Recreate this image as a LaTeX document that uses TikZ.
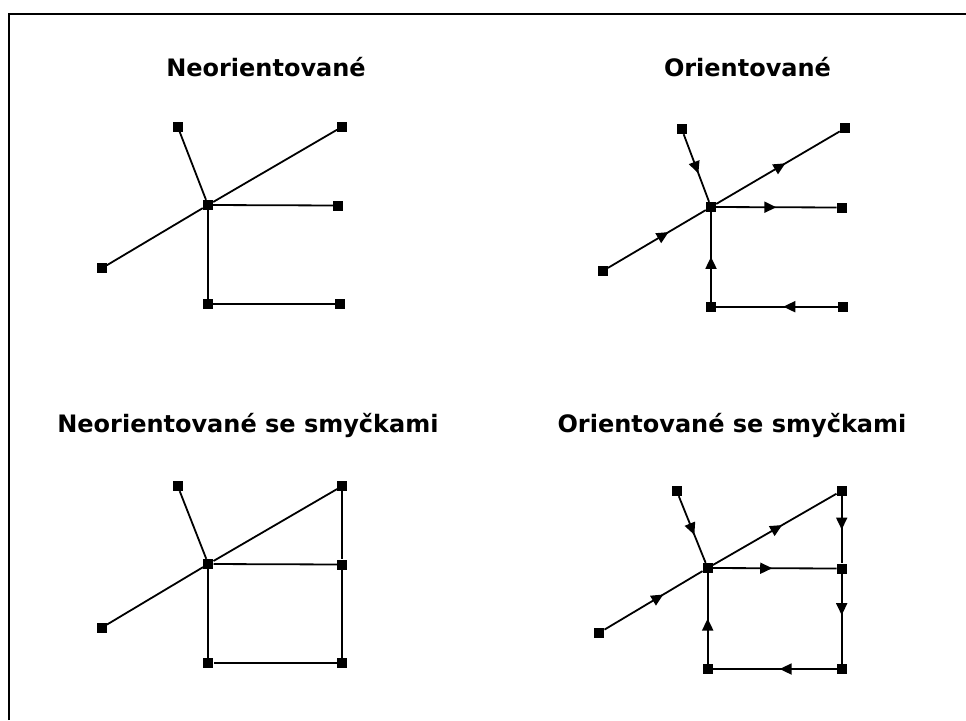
\documentclass[tikz,border=0pt]{standalone}
\usepackage{fontspec}
\setmainfont{DejaVu Sans}
\usetikzlibrary{arrows.meta,decorations.markings}
\tikzset{
  vtx/.style={rectangle,fill=black,minimum size=10pt,inner sep=0pt},
  edge/.style={draw=black,line width=1.8pt},
  arr/.style={postaction={decorate,decoration={markings,
     mark=at position #1 with {\arrow{Triangle[length=12pt,width=11pt]}}}}},
  ttl/.style={anchor=base,inner sep=0pt,font=\bfseries\fontsize{24}{28}\selectfont},
  frame/.style={draw=black,line width=2pt}
}
\begin{document}
\begin{tikzpicture}[x=1pt,y=-1pt]
\useasboundingbox (0,0) rectangle (966,720);
\fill[white] (0,0) rectangle (966,720);
\coordinate (f1) at (9,720);
\coordinate (f2) at (9,14);
\coordinate (f3) at (966,14);
\draw[frame] (f1) -- (f2) -- (f3);

% titles
\node[ttl] (t1) at (266,76.5) {Neorientované};
\node[ttl] (t2) at (747.5,76.5) {Orientované};
\node[ttl] (t3) at (248,432.5) {Neorientované se smyčkami};
\node[ttl] (t4) at (732,432.5) {Orientované se smyčkami};

% graph 1
\node[vtx] (a1) at (177.7,126.7) {};
\node[vtx] (a2) at (342.3,126.7) {};
\node[vtx] (a3) at (208,205) {};
\node[vtx] (a4) at (338.3,205.5) {};
\node[vtx] (a5) at (101.7,268.3) {};
\node[vtx] (a6) at (208,304) {};
\node[vtx] (a7) at (340,304) {};
\draw[edge] (a1) -- (a3);
\draw[edge] (a5) -- (a3);
\draw[edge] (a3) -- (a2);
\draw[edge] (a3) -- (a4);
\draw[edge] (a6) -- (a3);
\draw[edge] (a7) -- (a6);

% graph 2
\node[vtx] (b1) at (681.7,129) {};
\node[vtx] (b2) at (845,128.3) {};
\node[vtx] (b3) at (711,207) {};
\node[vtx] (b4) at (841.7,207.5) {};
\node[vtx] (b5) at (602.7,271) {};
\node[vtx] (b6) at (711,306.7) {};
\node[vtx] (b7) at (843.3,306.7) {};
\draw[edge,arr=0.58] (b1) -- (b3);
\draw[edge,arr=0.62] (b5) -- (b3);
\draw[edge,arr=0.56] (b3) -- (b2);
\draw[edge,arr=0.5] (b3) -- (b4);
\draw[edge,arr=0.5] (b6) -- (b3);
\draw[edge,arr=0.45] (b7) -- (b6);

% graph 3
\node[vtx] (c1) at (177.7,486) {};
\node[vtx] (c2) at (342.3,486) {};
\node[vtx] (c3) at (208.3,564) {};
\node[vtx] (c4) at (342.3,564.5) {};
\node[vtx] (c5) at (101.7,627.7) {};
\node[vtx] (c6) at (208.3,663.3) {};
\node[vtx] (c7) at (342.3,663.3) {};
\draw[edge] (c1) -- (c3);
\draw[edge] (c5) -- (c3);
\draw[edge] (c3) -- (c2);
\draw[edge] (c3) -- (c4);
\draw[edge] (c2) -- (c4);
\draw[edge] (c4) -- (c7);
\draw[edge] (c6) -- (c3);
\draw[edge] (c7) -- (c6);

% graph 4
\node[vtx] (d1) at (676.7,491) {};
\node[vtx] (d2) at (841.7,490.7) {};
\node[vtx] (d3) at (707.7,568) {};
\node[vtx] (d4) at (841.7,568.5) {};
\node[vtx] (d5) at (599.3,632.7) {};
\node[vtx] (d6) at (707.7,669) {};
\node[vtx] (d7) at (841.7,669) {};
\draw[edge,arr=0.58] (d1) -- (d3);
\draw[edge,arr=0.6] (d5) -- (d3);
\draw[edge,arr=0.56] (d3) -- (d2);
\draw[edge,arr=0.48] (d3) -- (d4);
\draw[edge,arr=0.5] (d2) -- (d4);
\draw[edge,arr=0.46] (d4) -- (d7);
\draw[edge,arr=0.5] (d6) -- (d3);
\draw[edge,arr=0.46] (d7) -- (d6);
\end{tikzpicture}
\end{document}
